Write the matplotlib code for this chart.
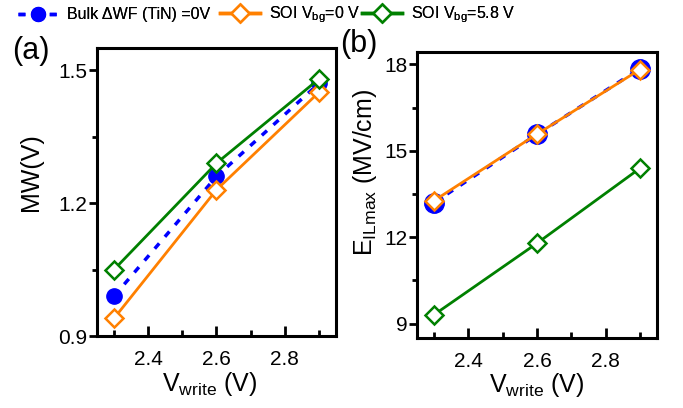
import matplotlib
matplotlib.use("Agg")
import matplotlib.pyplot as plt
from matplotlib.ticker import MultipleLocator, FormatStrFormatter
from matplotlib.lines import Line2D

plt.rcParams['font.family'] = ['Liberation Sans', 'DejaVu Sans']
plt.rcParams['mathtext.fontset'] = 'custom'
plt.rcParams['mathtext.rm'] = 'Liberation Sans'

v_write = [2.3, 2.6, 2.9]

# Memory window (V)
mw_bulk = [0.99, 1.26, 1.47]
mw_soi_0 = [0.94, 1.23, 1.45]
mw_soi_58 = [1.05, 1.29, 1.48]

# Maximum interlayer field (MV/cm)
e_bulk = [13.2, 15.57, 17.85]
e_soi_0 = [13.27, 15.58, 17.82]
e_soi_58 = [9.31, 11.79, 14.39]

labels = ["Bulk \u0394WF (TiN) =0V", "SOI V$_{\\rm bg}$=0 V", "SOI V$_{\\rm bg}$=5.8 V"]

BLUE = "#0000ff"
ORANGE = "#ff8000"
GREEN = "#008000"

W, H = 683, 408
fig = plt.figure(figsize=(W / 100, H / 100), dpi=100)


def px_axes(left, top, right, bottom):
    return fig.add_axes([left / W, 1 - bottom / H, (right - left) / W, (bottom - top) / H])


ax1 = px_axes(97, 48, 336, 336)
ax2 = px_axes(417, 52, 657, 338)


def style(ax):
    for sp in ax.spines.values():
        sp.set_linewidth(2.2)
    ax.tick_params(axis='x', which='major', direction='in', length=7, width=2,
                   labelsize=15, pad=10, top=False)
    ax.tick_params(axis='x', which='minor', direction='in', length=4, width=2, top=False)
    ax.tick_params(axis='y', which='major', direction='out', length=5.5, width=2,
                   labelsize=15, pad=1.5, right=False)
    ax.tick_params(axis='y', which='minor', direction='out', length=3.5, width=2, right=False)
    ax.xaxis.set_major_locator(MultipleLocator(0.2))
    ax.xaxis.set_minor_locator(MultipleLocator(0.1))
    ax.set_xlim(2.25, 2.95)


lw = 2.0
dash = (0, (2, 2.5))

# Panel (a): memory window
ax1.plot(v_write, mw_soi_0, color=ORANGE, lw=lw, marker='D', ms=9.5, mfc='white',
         mec=ORANGE, mew=1.8, zorder=3)
ax1.plot(v_write, mw_bulk, color=BLUE, lw=2.5, ls=dash, marker='o', ms=11,
         mfc=BLUE, mec=BLUE, zorder=2)
ax1.plot(v_write, mw_soi_58, color=GREEN, lw=lw, marker='D', ms=9.5, mfc='white',
         mec=GREEN, mew=1.8, zorder=4)
ax1.set_ylim(0.9, 1.55)
ax1.yaxis.set_major_locator(MultipleLocator(0.3))
ax1.yaxis.set_minor_locator(MultipleLocator(0.15))
ax1.yaxis.set_major_formatter(FormatStrFormatter('%.1f'))
style(ax1)
ax1.set_xlabel("V$_{\\rm write}$ (V)", fontsize=18)
ax1.set_ylabel("MW(V)", fontsize=18)
ax1.xaxis.set_label_coords(0.47, -0.118)
ax1.yaxis.set_label_coords(-0.276, 0.569)
ax1.yaxis.label.set_va('center')

# Panel (b): maximum interlayer field
ax2.plot(v_write, e_bulk, color=BLUE, lw=2.5, ls=dash, marker='o', ms=14,
         mfc=BLUE, mec=BLUE, zorder=2)
ax2.plot(v_write, e_soi_0, color=ORANGE, lw=lw, marker='D', ms=9.5, mfc='white',
         mec=ORANGE, mew=1.8, zorder=3)
ax2.plot(v_write, e_soi_58, color=GREEN, lw=lw, marker='D', ms=9.5, mfc='white',
         mec=GREEN, mew=1.8, zorder=4)
ax2.set_ylim(8.5, 18.43)
ax2.yaxis.set_major_locator(MultipleLocator(3))
ax2.yaxis.set_minor_locator(MultipleLocator(1.5))
style(ax2)
ax2.set_xlabel("V$_{\\rm write}$ (V)", fontsize=18)
ax2.set_ylabel("E$_{\\rm ILmax}$ (MV/cm)", fontsize=18)
ax2.xaxis.set_label_coords(0.5, -0.115)
ax2.yaxis.set_label_coords(-0.217, 0.58)
ax2.yaxis.label.set_va('center')

# Panel tags
fig.text(12 / W, 1 - 59 / H, "(a)", fontsize=22, va='baseline', ha='left')
fig.text(340 / W, 1 - 52 / H, "(b)", fontsize=22, va='baseline', ha='left')

# Legend row across the top, one entry per series
handles = [
    Line2D([], [], color=BLUE, lw=2.5, ls=dash, marker='o', ms=10, mfc=BLUE, mec=BLUE),
    Line2D([], [], color=ORANGE, lw=2.5, marker='D', ms=9, mfc='white', mec=ORANGE, mew=1.8),
    Line2D([], [], color=GREEN, lw=2.5, marker='D', ms=9, mfc='white', mec=GREEN, mew=1.8),
]
starts = [18, 220, 362]
for h, lab, x0 in zip(handles, labels, starts):
    leg = fig.legend([h], [lab], loc='center left', bbox_to_anchor=(x0 / W, 1 - 15 / H),
                     frameon=False, fontsize=11.5, handlelength=2.5, handletextpad=0.55,
                     borderpad=0, borderaxespad=0)
    fig.add_artist(leg)

fig.savefig("out.png", dpi=100)
